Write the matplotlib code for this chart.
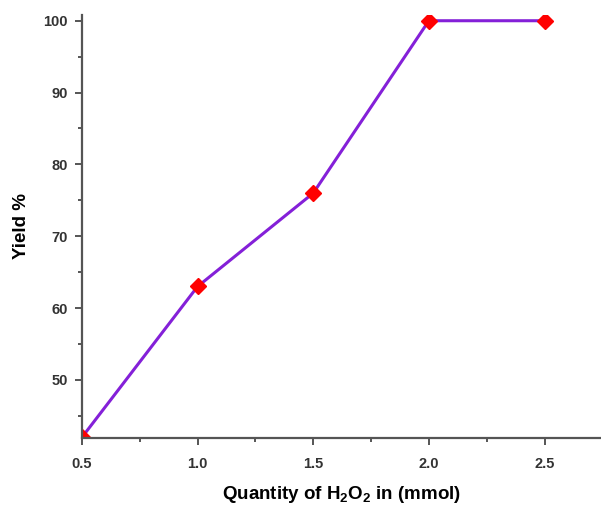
import matplotlib
matplotlib.use("Agg")
import matplotlib.pyplot as plt
from matplotlib.ticker import MultipleLocator

plt.rcParams['font.family'] = ['Liberation Sans', 'DejaVu Sans']
plt.rcParams['mathtext.fontset'] = 'custom'
plt.rcParams['mathtext.bf'] = 'Liberation Sans:bold'

quantity = [0.5, 1.0, 1.5, 2.0, 2.5]
yield_pct = [42, 63, 76, 100, 100]

fig = plt.figure(figsize=(6.01, 5.08), dpi=100)
ax = fig.add_axes([0.1364, 0.1378, 0.862, 0.8327])

ax.plot(quantity, yield_pct, color='#8420d8', lw=2.2,
        marker='D', ms=8.5, mfc='red', mec='red')

ax.set_xlim(0.5, 2.74)
ax.set_ylim(41.9, 100.8)
ax.xaxis.set_major_locator(MultipleLocator(0.5))
ax.xaxis.set_minor_locator(MultipleLocator(0.25))
ax.yaxis.set_minor_locator(MultipleLocator(5))
ax.set_yticks([50, 60, 70, 80, 90, 100])

for s in ['top', 'right']:
    ax.spines[s].set_visible(False)
for s in ['left', 'bottom']:
    ax.spines[s].set_color('#555555')
    ax.spines[s].set_linewidth(1.6)

ax.tick_params(which='both', direction='out', color='#555555', width=1.4)
ax.tick_params(which='major', length=5, labelsize=10.5, labelcolor='#333333')
ax.tick_params(axis='x', which='major', pad=9)
ax.tick_params(axis='y', which='major', pad=5)
ax.tick_params(which='minor', length=3)
for lab in ax.get_xticklabels() + ax.get_yticklabels():
    lab.set_fontweight('bold')

ax.set_xlabel('Quantity of H$_{\\mathbf{2}}$O$_{\\mathbf{2}}$ in (mmol)', fontsize=13.5,
              fontweight='bold', labelpad=9)
ax.set_ylabel('Yield %', fontsize=13.5, fontweight='bold', labelpad=10)

fig.savefig('out.png', dpi=100)
